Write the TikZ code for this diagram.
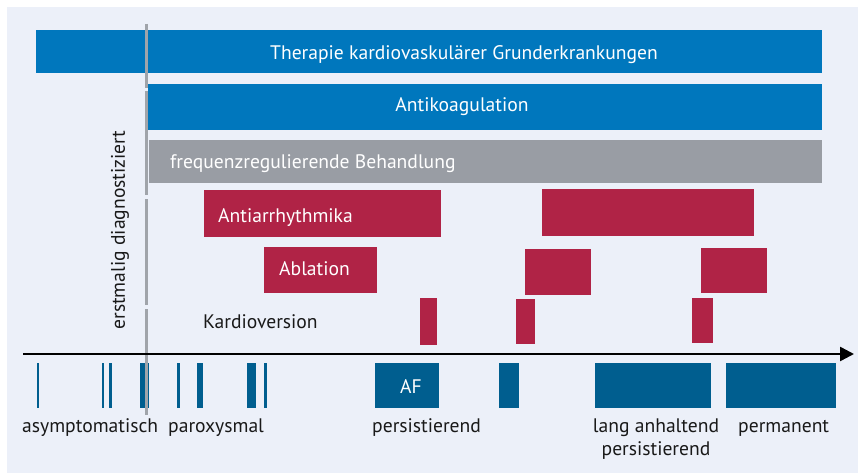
\documentclass[tikz,border=0pt]{standalone}
\usepackage{fontspec}
\setmainfont{PT Sans}
\usetikzlibrary{arrows.meta}
\definecolor{bg}{HTML}{ECF0F9}
\definecolor{barblue}{HTML}{0077BD}
\definecolor{darkblue}{HTML}{005E8F}
\definecolor{barred}{HTML}{B02346}
\definecolor{bargray}{HTML}{999DA4}
\definecolor{vline}{HTML}{A0A4AA}
\tikzset{
  bluebar/.style={fill=barblue, draw=none},
  redbar/.style={fill=barred, draw=none},
  graybar/.style={fill=bargray, draw=none},
  phase/.style={fill=darkblue, draw=none},
  wlabel/.style={text=white, font=\fontsize{19.6}{23}\selectfont, inner sep=0pt},
  blabel/.style={text=black!90, font=\fontsize{19.6}{23}\selectfont, inner sep=0pt},
}
\begin{document}
\begin{tikzpicture}[x=1pt, y=-1pt]
\useasboundingbox (0,0) rectangle (858,473);
\fill[bg] (7,7) rectangle (858,473);
% bars
\fill[bluebar] (36,30) rectangle (822,73);
\fill[bluebar] (148,84) rectangle (822,130);
\fill[graybar] (149,140) rectangle (822,183);
\fill[redbar] (204,190) rectangle (441,237);
\fill[redbar] (542,189) rectangle (754,236);
\fill[redbar] (264,247) rectangle (377,293);
\fill[redbar] (525,249) rectangle (591,295);
\fill[redbar] (701,248) rectangle (767,293);
\fill[redbar] (420,298) rectangle (437,345);
\fill[redbar] (516,299) rectangle (535,344);
\fill[redbar] (692,298) rectangle (713,343);
% vertical line
\foreach \a/\b in {24/88, 91/195, 199/305, 309/415}
  \draw[vline, line width=3pt] (146,\a) -- (146,\b);
% labels in bars
\node[wlabel, anchor=base] (ther) at (464,60) {Therapie kardiovaskulärer Grunderkrankungen};
\node[wlabel, anchor=base] (anti) at (462,112) {Antikoagulation};
\node[wlabel, anchor=base west] (freq) at (170,168) {frequenzregulierende Behandlung};
\node[wlabel, anchor=base west] (aa) at (218,222) {Antiarrhythmika};
\node[wlabel, anchor=base west] (abl) at (279,275) {Ablation};
\node[blabel, anchor=base west] (kv) at (203,328) {Kardioversion};
\node[blabel, rotate=90] (erst) at (120,230) {erstmalig diagnostiziert};
% axis
\coordinate (axs) at (23,354);
\coordinate (axe) at (854,354);
\draw[line width=2.5pt, -{Triangle[length=14pt,width=14pt]}] (axs) -- (axe);
% phases
\fill[phase] (37,363) rectangle (39,408);
\fill[phase] (102,363) rectangle (104,408);
\fill[phase] (109,363) rectangle (111.5,408);
\fill[phase] (140,363) rectangle (149,408);
\fill[phase] (177,363) rectangle (180,408);
\fill[phase] (197,363) rectangle (203,408);
\fill[phase] (247,363) rectangle (256,408);
\fill[phase] (264,363) rectangle (267,408);
\fill[phase] (375,363) rectangle (439,408);
\fill[phase] (499,363) rectangle (519,408);
\fill[phase] (595,363) rectangle (711,408);
\fill[phase] (726,363) rectangle (836,408);
\draw[vline, line width=3pt] (146,363) -- (146,415);
\node[wlabel, anchor=base] (af) at (411,393) {AF};
% phase labels
\node[blabel, anchor=base west] (asy) at (22,432) {asymptomatisch};
\node[blabel, anchor=base west] (par) at (168,432) {paroxysmal};
\node[blabel, anchor=base west] (pers) at (372,432) {persistierend};
\node[blabel, anchor=base, align=center] (lang) at (656,455) {lang anhaltend\\persistierend};
\node[blabel, anchor=base west] (perm) at (738,432) {permanent};
\end{tikzpicture}
\end{document}
